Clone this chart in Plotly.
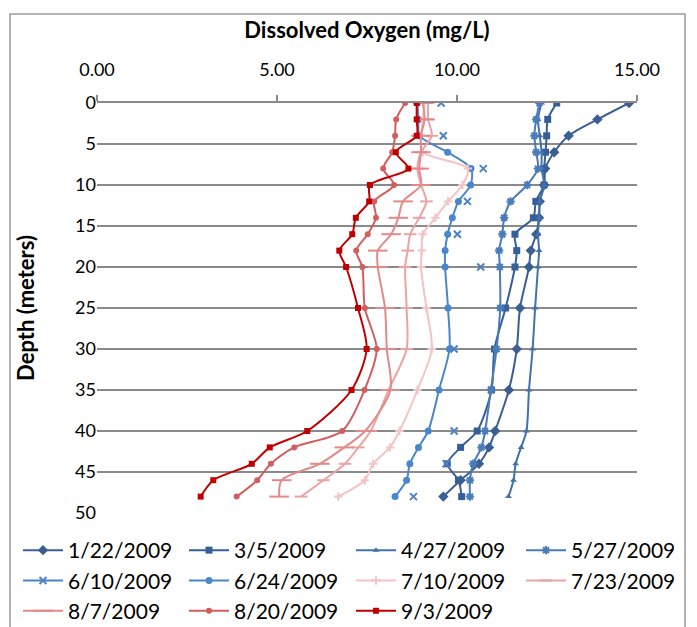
import plotly.graph_objects as go

depths = [0, 2, 4, 6, 8, 10, 12, 14, 16, 18, 20, 25, 30, 35, 40, 42, 44, 46, 48]

dates = ["1/22/2009", "3/5/2009", "4/27/2009", "5/27/2009", "6/10/2009", "6/24/2009",
         "7/10/2009", "7/23/2009", "8/7/2009", "8/20/2009", "9/3/2009"]

do_0122 = [14.78, 13.9, 13.1, 12.7, 12.45, 12.42, 12.3, 12.28, 12.2, 12.05, 12.0, 11.75, 11.66, 11.44, 11.06, 10.89, 10.61, 10.1, 9.62]
do_0305 = [12.77, 12.52, 12.49, 12.46, 12.42, 12.42, 12.19, 12.12, 11.61, 11.66, 11.61, 11.35, 11.04, 10.96, 10.56, 10.1, 9.73, 10.04, 10.13]
do_0427 = [12.35, 12.25, 12.3, 12.35, 12.35, 12.42, 12.3, 12.28, 12.25, 12.28, 12.25, 12.17, 12.1, 12.0, 11.93, 11.78, 11.63, 11.57, 11.43]
do_0527 = [12.29, 12.2, 12.15, 12.2, 12.25, 11.95, 11.49, 11.31, 11.26, 11.17, 11.19, 11.2, 11.1, 10.94, 10.78, 10.68, 10.45, 10.36, 10.36]
do_0610 = [9.56, None, 9.62, None, 10.73, None, 10.29, None, 10.01, None, 10.66, None, 9.92, None, 9.92, None, 9.7, None, 8.79]
do_0624 = [8.9, 8.93, 8.96, 9.74, 10.39, 10.38, 10.04, 9.87, 9.74, 9.67, 9.67, 9.75, 9.79, 9.5, 9.2, 8.93, 8.69, 8.6, 8.28]
do_0710 = [9.1, 9.05, 9.0, 9.05, 10.3, 10.15, 9.75, 9.4, 9.05, 9.02, 9.0, 9.15, 9.3, 8.9, 8.4, 8.14, 7.67, 7.44, 6.7]
do_0723 = [9.2, 9.2, 9.3, 9.0, 8.9, 9.0, 9.15, 8.95, 8.7, 8.63, 8.56, 8.6, 8.6, 8.1, 7.6, 7.26, 6.89, 6.29, 5.67]
do_0807 = [9.05, 9.1, 9.0, 9.0, 8.95, 9.0, 8.5, 8.37, 8.17, 7.8, 7.8, 8.0, 8.05, 8.15, 7.45, 6.87, 6.19, 5.13, 5.06]
do_0820 = [8.56, 8.31, 8.28, 8.2, 7.95, 8.25, 7.7, 7.75, 7.52, 7.2, 7.37, 7.44, 7.77, 7.43, 6.81, 5.48, 4.83, 4.45, 3.88]
do_0903 = [8.88, 8.88, 8.88, 8.3, 8.65, 7.58, 7.56, 7.19, 7.09, 6.73, 6.92, 7.25, 7.49, 7.07, 5.84, 4.8, 4.3, 3.23, 2.88]

series = [do_0122, do_0305, do_0427, do_0527, do_0610, do_0624,
          do_0710, do_0723, do_0807, do_0820, do_0903]

x_ticks = [0, 5, 10, 15]
x_tick_labels = ["0.00", "5.00", "10.00", "15.00"]
y_ticks = [0, 5, 10, 15, 20, 25, 30, 35, 40, 45, 50]

colors = ["#3b5f92", "#365f98", "#4371ab", "#4a7cba", "#4f82c2", "#4a86cc",
          "#f4c3c3", "#eba3a3", "#e28a8a", "#d35e5e", "#c00000"]
symbols = ["diamond", "square", "triangle-up", "asterisk-open", "x-thin-open", "circle",
           "cross-thin-open", "line-ew-open", "line-ew-open", "circle", "square"]
msizes = [8, 7, 6, 7, 7, 7, 6, 9, 14, 6, 6]

# legend columns: 4 per row, filled row by row
legend_ids = ["legend", "legend2", "legend3", "legend4"]

fig = go.Figure()
for i, (name, vals, c, s, ms) in enumerate(zip(dates, series, colors, symbols, msizes)):
    fig.add_trace(go.Scatter(
        x=vals, y=depths, name=name, mode="lines+markers",
        connectgaps=False, legend=legend_ids[i % 4], legendgroup=name,
        line=dict(color=c, width=2, shape="spline", smoothing=0.8),
        marker=dict(symbol=s, size=ms, color=c, line=dict(color=c, width=2 if "open" in s else 0)),
    ))

# the page has an 8px body margin; work in page pixels and convert
OFF = 8
W, H = 697 - OFF, 627 - OFF
L = 97 - OFF
T = 103 - OFF
R = W - (637 - OFF)
B = H - (513 - OFF)
pw, ph = W - L - R, H - T - B

def px(xp):
    return (xp - OFF - L) / pw

def py(yp):
    return (H - B - (yp - OFF)) / ph

font_family = "Lato, Carlito, Calibri, sans-serif"

def legend_at(xpix):
    return dict(
        orientation="v", x=px(xpix), y=py(530), xanchor="left", yanchor="top",
        itemwidth=40, font=dict(size=21, family=font_family, color="#000000"),
        tracegroupgap=0, bgcolor="rgba(0,0,0,0)",
    )

fig.update_layout(
    width=W, height=H,
    margin=dict(l=L, r=R, t=T, b=B, autoexpand=False),
    paper_bgcolor="white", plot_bgcolor="white",
    font=dict(family=font_family, size=18, color="#000000"),
    xaxis=dict(
        side="top", range=[0, 15], tickvals=x_ticks, ticktext=x_tick_labels,
        showgrid=False, zeroline=False, showline=True, linecolor="#8a8a8a", linewidth=1.5,
        ticks="outside", ticklen=6, tickcolor="#8a8a8a", tickwidth=1.5,
        ticklabelstandoff=12, automargin=False,
        title=dict(text="<b>Dissolved Oxygen (mg/L)</b>", font=dict(size=22), standoff=13),
    ),
    yaxis=dict(
        range=[50, 0], tickvals=y_ticks, showgrid=True, gridcolor="#8a8a8a", gridwidth=1.5,
        zeroline=False, showline=False, ticks="", ticklabelstandoff=0, automargin=False,
        title=dict(text="<b>Depth (meters)</b>", font=dict(size=22), standoff=34),
    ),
    legend=legend_at(18),
    legend2=legend_at(184),
    legend3=legend_at(351),
    legend4=legend_at(521),
    showlegend=True,
)

fig.add_shape(type="rect", xref="paper", yref="paper",
              x0=px(10), x1=px(685), y0=py(650), y1=py(14),
              line=dict(color="#9a9a9a", width=1.5), fillcolor="rgba(0,0,0,0)", layer="below")

fig.write_html("out.html")
